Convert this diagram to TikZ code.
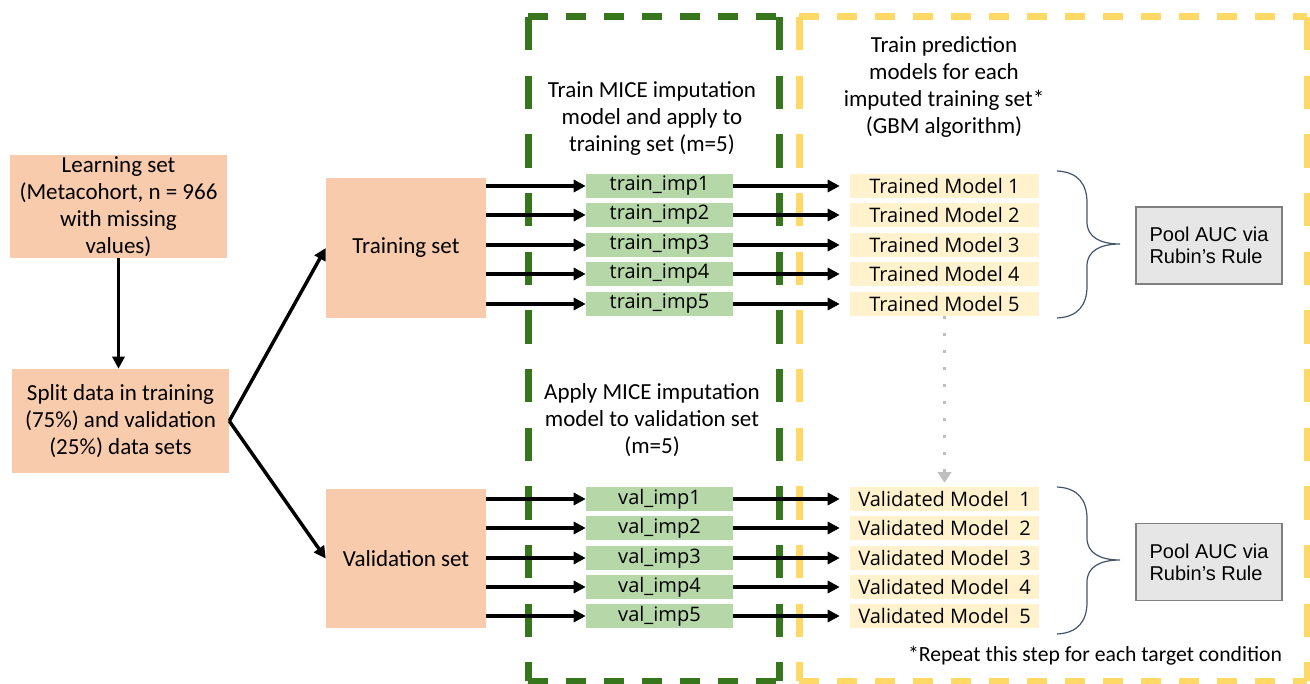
\documentclass[tikz,border=0pt]{standalone}
\usepackage{fontspec}
\setmainfont{Carlito}
\newfontfamily\opensans{Open Sans}
\newfontfamily\libsans{Liberation Sans}
\usepackage{tikz}
\usetikzlibrary{arrows.meta}

\definecolor{peach}{HTML}{F8CBAD}
\definecolor{impgreen}{HTML}{B6D7A8}
\definecolor{modelyellow}{HTML}{FFF2CC}
\definecolor{poolgray}{HTML}{E7E6E6}
\definecolor{poolline}{HTML}{7F7F7F}
\definecolor{framegreen}{HTML}{38761D}
\definecolor{frameyellow}{HTML}{FFD966}
\definecolor{bracecol}{HTML}{44546A}
\definecolor{dotgray}{HTML}{BFBFBF}

\begin{document}
\begin{tikzpicture}[x=0.75pt,y=-0.75pt,
        every node/.style={font=\fontsize{17.25}{20.25}\selectfont},
        setbox/.style={fill=peach,inner sep=0pt,align=center},
        impbox/.style={fill=impgreen,minimum width=110.25pt,minimum height=18pt,
                inner sep=0pt,font=\opensans\fontsize{15}{18}\selectfont},
        modelbox/.style={fill=modelyellow,minimum width=141.75pt,minimum height=18pt,
                inner sep=0pt,font=\opensans\fontsize{15}{18}\selectfont},
        poolbox/.style={fill=poolgray,draw=poolline,line width=1.1pt,minimum width=109.5pt,
                minimum height=57.75pt,align=left,font=\libsans\fontsize{15}{16.5}\selectfont},
        steptext/.style={align=center},
        arr/.style={line width=2.6pt,-{Triangle[length=9pt,width=9pt]}},
        hframe/.style={line width=5.25pt,dash pattern=on 15pt off 13.5pt},
        vframe/.style={line width=5.25pt,dash pattern=on 25pt off 19pt},
        brace/.style={draw=bracecol,line width=0.9pt}]

        \useasboundingbox (0,0) rectangle (1310,684);

        % Dashed frames
        \draw[hframe,framegreen] (528,17) -- (779,17);
        \draw[hframe,framegreen] (528,681) -- (779,681);
        \draw[vframe,framegreen] (528,17) -- (528,681);
        \draw[vframe,framegreen] (779,17) -- (779,681);
        \draw[hframe,frameyellow] (799,17) -- (1307,17);
        \draw[hframe,frameyellow] (799,681) -- (1307,681);
        \draw[vframe,frameyellow] (799,17) -- (799,681);
        \draw[vframe,frameyellow] (1307,17) -- (1307,681);

        % Step descriptions
        \node[steptext] (trainmice) at (652,119) {Train MICE imputation\\model and apply to\\training set (m=5)};
        \node[steptext] (trainpred) at (944,87) {Train prediction\\models for each\\imputed training set*\\(GBM algorithm)};
        \node[steptext] (applymice) at (652,420) {Apply MICE imputation\\model to validation set\\(m=5)};
        \node[font=\fontsize{16.25}{20}\selectfont] (repeat) at (1095,656) {*Repeat this step for each target condition};

        % Data sets
        \node[setbox,minimum width=162.75pt,minimum height=77.25pt] (learn) at (118.5,206.5)
                {Learning set\\(Metacohort, n = 966\\with missing\\values)};
        \node[setbox,minimum width=162.75pt,minimum height=78pt] (split) at (120.5,421)
                {Split data in training\\(75\%) and validation\\(25\%) data sets};
        \node[setbox,minimum width=120pt,minimum height=105pt] (trainset) at (406,248) {Training set};
        \node[setbox,minimum width=120pt,minimum height=104.25pt] (valset) at (406,558.5) {Validation set};

        \draw[arr] (learn.south) -- (learn.south |- split.north);
        \draw[arr] (split.east) -- (trainset.west);
        \draw[arr] (split.east) -- (valset.west);

        % Imputed sets and models
        \foreach \i/\y in {1/186,2/215,3/245,4/274,5/304}{
                \node[impbox] (ti\i) at (659.5,\y) {train\_imp\i};
                \node[modelbox] (tm\i) at (944.5,\y) {Trained Model \i};
                \draw[arr] (trainset.east |- ti\i) -- (ti\i.west);
                \draw[arr,shorten >=7.5pt] (ti\i.east) -- (tm\i.west);
        }
        \foreach \i/\y in {1/499,2/528,3/558,4/587,5/616}{
                \node[impbox] (vi\i) at (659.5,\y) {val\_imp\i};
                \node[modelbox] (vm\i) at (944.5,\y) {Validated Model~ \i};
                \draw[arr] (valset.east |- vi\i) -- (vi\i.west);
                \draw[arr,shorten >=7.5pt] (vi\i.east) -- (vm\i.west);
        }

        % Pooling
        \node[poolbox] (pooltrain) at (1209,245.5) {Pool AUC via\\Rubin’s Rule};
        \node[poolbox] (poolval) at (1209,562) {Pool AUC via\\Rubin’s Rule};

        \draw[brace] (1057,171) .. controls (1078,172) and (1087,184) .. (1087,203)
                -- (1087,222) .. controls (1087,237) and (1100,244) .. (1120,244)
                .. controls (1100,244) and (1087,251) .. (1087,266)
                -- (1087,286) .. controls (1087,305) and (1078,317) .. (1057,318);
        \draw[brace] (1057,487) .. controls (1078,488) and (1087,500) .. (1087,519)
                -- (1087,538) .. controls (1087,553) and (1100,560) .. (1120,560)
                .. controls (1100,560) and (1087,567) .. (1087,582)
                -- (1087,602) .. controls (1087,621) and (1078,633) .. (1057,634);

        % Trained to validated
        \draw[dotgray,line width=2.25pt,dash pattern=on 2.25pt off 10.5pt,
                -{Triangle[length=8pt,width=10pt]},shorten >=3pt] (tm5.south) -- (vm1.north);
\end{tikzpicture}
\end{document}
